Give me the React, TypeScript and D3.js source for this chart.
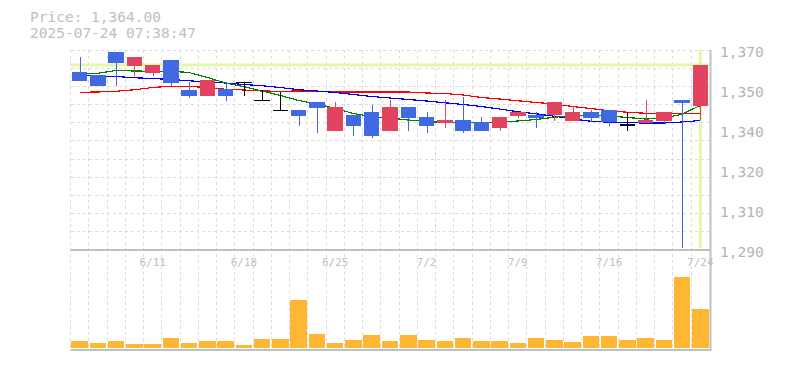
import React, { useEffect, useRef } from 'react'
import * as d3 from 'd3'

// trading days shown on the chart
const dates = ['6/5', '6/6', '6/9', '6/10', '6/11', '6/12', '6/13', '6/16', '6/17', '6/18',
  '6/19', '6/20', '6/23', '6/24', '6/25', '6/26', '6/27', '6/30', '7/1', '7/2',
  '7/3', '7/4', '7/7', '7/8', '7/9', '7/10', '7/11', '7/14', '7/15', '7/16',
  '7/17', '7/18', '7/22', '7/23', '7/24']

const opens = [1361.1, 1360, 1369.2, 1363.6, 1360.9, 1366, 1354, 1351.7, 1354.3, 1357.1,
  1349.9, 1345.9, 1346, 1349.2, 1337.6, 1344, 1345.2, 1337.6, 1347.2, 1343.2,
  1340.9, 1342, 1341.2, 1338.9, 1343.7, 1344.1, 1344, 1341.7, 1345.2, 1346,
  1340, 1340.9, 1341.7, 1350, 1347.7]
const highs = [1367.1, 1360, 1369.2, 1367.2, 1364, 1366, 1357.1, 1358, 1357.1, 1357.1,
  1354, 1353.3, 1346, 1349.2, 1349.2, 1344, 1348, 1350, 1347.2, 1345.2,
  1350, 1351.3, 1343.2, 1343.2, 1345.2, 1345.2, 1349.2, 1347.6, 1346, 1346,
  1345.1, 1350, 1345.1, 1350, 1364]
const lows = [1357.7, 1355.6, 1355.7, 1359.7, 1359.7, 1355.6, 1350.9, 1351.7, 1349.6, 1351.7,
  1349.9, 1345.9, 1339.7, 1336.9, 1337.6, 1335.6, 1334.9, 1337.6, 1337.6, 1336.9,
  1338.9, 1336.9, 1337.6, 1337.7, 1342.9, 1338.9, 1341.7, 1341.7, 1341.3, 1339.7,
  1337.6, 1340.9, 1340.7, 1290.8, 1342]
const closes = [1357.7, 1355.6, 1364.9, 1367.2, 1364, 1356.9, 1351.7, 1358, 1351.7, 1357.1,
  1349.9, 1345.9, 1343.7, 1346.8, 1347.2, 1339.6, 1335.6, 1347.2, 1342.9, 1339.6,
  1342, 1337.6, 1337.6, 1343.2, 1345.2, 1342.9, 1349.2, 1345.2, 1342.9, 1341.2,
  1340, 1342, 1345.1, 1348.9, 1364]

// volume, thousand shares
const volumes = [21, 15, 21, 12, 12, 30, 15, 21, 21, 9,
  27, 27, 144, 42, 15, 24, 39, 21, 39, 24,
  21, 30, 21, 21, 15, 30, 24, 18, 36, 36,
  24, 30, 24, 213, 117]

// moving averages (green / blue / red)
const maShort = [1360.6, 1360.7, 1361.8, 1361.6, 1361.5, 1361.5, 1361.0, 1359.0, 1356.8, 1355.3,
  1353.6, 1351.8, 1349.8, 1348.4, 1346.6, 1344.6, 1343.4, 1342.8, 1342.0, 1341.4,
  1341.0, 1340.8, 1341.0, 1341.0, 1341.6, 1342.2, 1343.1, 1343.8, 1344.0, 1343.6,
  1343.0, 1342.4, 1342.6, 1344.4, 1347.8]
const maMid = [1359.8, 1359.6, 1359.4, 1358.9, 1358.6, 1358.2, 1357.7, 1357.2, 1356.8, 1356.2,
  1355.7, 1355.0, 1354.1, 1353.6, 1353.0, 1352.2, 1351.4, 1350.8, 1350.2, 1349.6,
  1348.9, 1348.2, 1347.4, 1346.4, 1345.3, 1344.5, 1343.5, 1342.4, 1341.5, 1341.1,
  1340.9, 1340.8, 1340.8, 1341.2, 1341.8]
const maLong = [1353.1, 1353.2, 1353.5, 1354.1, 1355.0, 1355.5, 1355.5, 1354.9, 1354.3, 1354.0,
  1353.6, 1353.5, 1353.6, 1353.4, 1353.2, 1353.2, 1353.2, 1353.2, 1353.2, 1352.8,
  1352.6, 1352.0, 1351.0, 1350.4, 1349.7, 1349.0, 1348.4, 1347.4, 1346.6, 1345.7,
  1345.1, 1344.7, 1344.5, 1344.5, 1344.6]

const dateTicks = ['6/11', '6/18', '6/25', '7/2', '7/9', '7/16', '7/24']
const priceTicks = [1290, 1306, 1322, 1338, 1354, 1370]
const lastPrice = 1364
const stamp = '2025-07-24 07:38:47'

const FONT = '"DejaVu Sans Mono", "Liberation Mono", monospace'

export default function App() {
  const ref = useRef(null)

  useEffect(() => {
    const svg = d3.select(ref.current)
    svg.selectAll('*').remove()

    const left = 70.5, right = 709.5
    const top = 50, bottom = 250
    const volTop = 277, volBottom = 348, panelBottom = 350

    const x = d3.scaleBand().domain(dates).range([left, right])
    const step = x.step()
    const cx = (d) => x(d) + step / 2
    const bw = 15.5

    const y = d3.scaleLinear().domain([1290, 1370]).range([bottom, top])
    const yv = d3.scaleLinear().domain([0, d3.max(volumes)]).range([volBottom, volTop])

    // title
    svg.append('text')
      .attr('x', 30).attr('y', 22)
      .attr('font-family', FONT).attr('font-size', 14.5)
      .attr('fill', '#c0c0c0')
      .text('Price: ' + d3.format(',.2f')(lastPrice))
    svg.append('text')
      .attr('x', 30).attr('y', 38)
      .attr('font-family', FONT).attr('font-size', 14.5)
      .attr('fill', '#c0c0c0')
      .text(stamp)

    // grid
    const grid = svg.append('g')
      .attr('stroke', '#dcdcdc')
      .attr('stroke-dasharray', '3,3')
      .attr('shape-rendering', 'crispEdges')
    grid.selectAll('.hg')
      .data(d3.range(11))
      .enter()
      .append('line')
      .attr('x1', left).attr('x2', right)
      .attr('y1', k => top + k * (bottom - top) / 11)
      .attr('y2', k => top + k * (bottom - top) / 11)
    grid.selectAll('.vg')
      .data(d3.range(35))
      .enter()
      .append('line')
      .attr('x1', k => left + k * step).attr('x2', k => left + k * step)
      .attr('y1', top).attr('y2', panelBottom)

    // current price / current day markers
    svg.append('line')
      .attr('x1', left).attr('x2', right)
      .attr('y1', y(lastPrice)).attr('y2', y(lastPrice))
      .attr('stroke', '#e6f5a6').attr('stroke-width', 3)
    svg.append('line')
      .attr('x1', cx(dates[dates.length - 1])).attr('x2', cx(dates[dates.length - 1]))
      .attr('y1', top).attr('y2', bottom - 2)
      .attr('stroke', '#e6f5a6').attr('stroke-width', 3)

    // axes lines
    const axis = svg.append('g').attr('stroke', '#c0c0c0').attr('stroke-width', 2)
    axis.append('line').attr('x1', left).attr('x2', right + 1).attr('y1', bottom).attr('y2', bottom)
    axis.append('line').attr('x1', left).attr('x2', right + 1).attr('y1', panelBottom).attr('y2', panelBottom)
    axis.append('line').attr('x1', right + 1).attr('x2', right + 1).attr('y1', top).attr('y2', panelBottom + 1)

    // price labels
    svg.selectAll('.plabel')
      .data(priceTicks)
      .enter()
      .append('text')
      .attr('x', 720)
      .attr('y', d => y(d) + 7)
      .attr('font-family', FONT).attr('font-size', 14.5)
      .attr('fill', '#b4b4b4')
      .text(d => d3.format(',')(Math.round(d / 10) * 10))

    // date labels
    svg.selectAll('.dlabel')
      .data(dateTicks)
      .enter()
      .append('text')
      .attr('x', d => cx(d))
      .attr('y', 266)
      .attr('text-anchor', 'middle')
      .attr('font-family', FONT).attr('font-size', 11)
      .attr('fill', '#c0c0c0')
      .text(d => d)

    // moving averages
    const maLine = d3.line()
      .x((d, i) => cx(dates[i]))
      .y(d => y(d))
    const mas = [[maLong, '#ff0000'], [maMid, '#0000ff'], [maShort, '#008000']]
    mas.forEach(([vals, c]) => {
      svg.append('path')
        .attr('d', maLine(vals))
        .attr('fill', 'none')
        .attr('stroke', c)
        .attr('stroke-width', 1.2)
        .attr('shape-rendering', 'crispEdges')
    })

    // candles
    const up = '#e2435f', down = '#4169e1'
    const candle = svg.selectAll('.candle')
      .data(dates)
      .enter()
      .append('g')
      .attr('shape-rendering', 'crispEdges')
    candle.append('line')
      .attr('x1', d => Math.round(cx(d)) + 0.5)
      .attr('x2', d => Math.round(cx(d)) + 0.5)
      .attr('y1', (d, i) => y(highs[i]))
      .attr('y2', (d, i) => y(lows[i]))
      .attr('stroke', (d, i) => closes[i] > opens[i] ? up : closes[i] < opens[i] ? down : '#000')
    candle.filter((d, i) => closes[i] !== opens[i])
      .append('rect')
      .attr('x', d => cx(d) - bw / 2)
      .attr('width', bw)
      .attr('y', d => { const i = dates.indexOf(d); return y(Math.max(opens[i], closes[i])) })
      .attr('height', d => { const i = dates.indexOf(d); return Math.max(1, Math.abs(y(opens[i]) - y(closes[i]))) })
      .attr('fill', d => { const i = dates.indexOf(d); return closes[i] > opens[i] ? up : down })
    candle.filter((d, i) => closes[i] === opens[i])
      .append('line')
      .attr('x1', d => cx(d) - bw / 2)
      .attr('x2', d => cx(d) + bw / 2)
      .attr('y1', d => y(opens[dates.indexOf(d)]))
      .attr('y2', d => y(opens[dates.indexOf(d)]))
      .attr('stroke', '#000')
      .attr('stroke-width', 1.5)

    // volume
    svg.selectAll('.vol')
      .data(volumes)
      .enter()
      .append('rect')
      .attr('x', (d, i) => cx(dates[i]) - bw / 2 - 0.5)
      .attr('width', bw + 1)
      .attr('y', d => yv(d))
      .attr('height', d => volBottom - yv(d))
      .attr('fill', '#ffb733')
      .attr('shape-rendering', 'crispEdges')
  }, [])

  return (
    <svg ref={ref} width={785} height={370}
      style={{ position: 'absolute', left: 0, top: 0, background: '#fff' }} />
  )
}
